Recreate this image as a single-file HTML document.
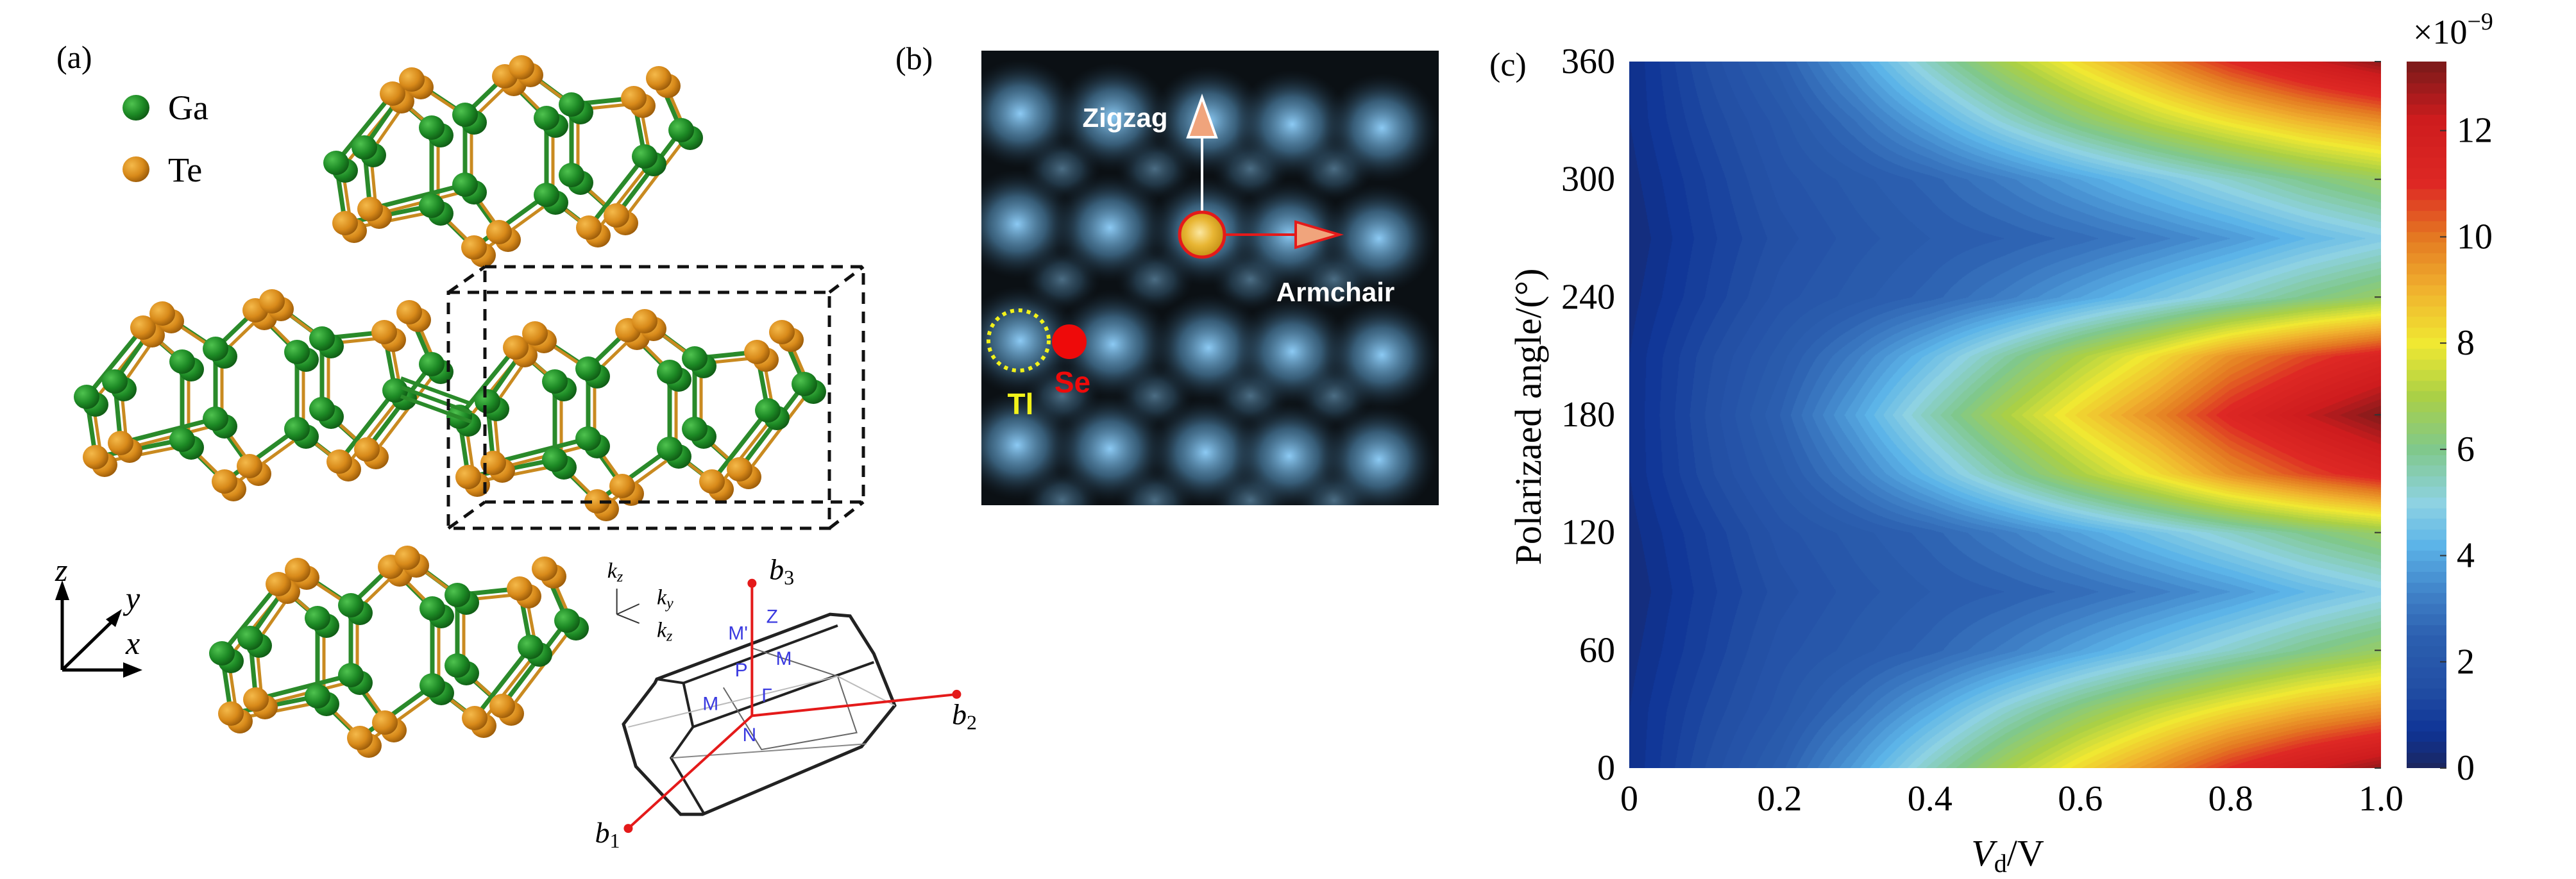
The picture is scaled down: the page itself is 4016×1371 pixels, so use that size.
<!DOCTYPE html>
<html><head><meta charset="utf-8">
<style>
html,body{margin:0;padding:0;background:#fff;}
#root{position:relative;width:4016px;height:1371px;overflow:hidden;background:#fff;font-family:"Liberation Serif",serif;}
svg{position:absolute;left:0;top:0;}
</style></head>
<body>
<div id="root">
<svg id="svg" width="4016" height="1371" viewBox="0 0 4016 1371">
<defs>
<radialGradient id="gGa" cx="35%" cy="35%" r="70%"><stop offset="0" stop-color="#4fc24f"/><stop offset="0.6" stop-color="#1d8a25"/><stop offset="1" stop-color="#0f5a14"/></radialGradient>
<radialGradient id="gTe" cx="35%" cy="35%" r="70%"><stop offset="0" stop-color="#f4b94a"/><stop offset="0.6" stop-color="#d88a1a"/><stop offset="1" stop-color="#9a5a08"/></radialGradient>
<radialGradient id="gBlob" cx="50%" cy="50%" r="50%"><stop offset="0" stop-color="#8ccaf4" stop-opacity="1"/><stop offset="0.5" stop-color="#4f86ad" stop-opacity="0.65"/><stop offset="1" stop-color="#1a2a38" stop-opacity="0"/></radialGradient>
<radialGradient id="gGold" cx="45%" cy="45%" r="60%"><stop offset="0" stop-color="#fbe7a0"/><stop offset="0.5" stop-color="#e8b634"/><stop offset="1" stop-color="#c08a10"/></radialGradient>
<clipPath id="clipB"><rect x="1530" y="79" width="713" height="709"/></clipPath>
</defs>
<g id="panelA"></g>
<g id="panelB"></g>
<g id="panelC"></g>
</svg>
<canvas id="heat" width="1172" height="1102" style="position:absolute;left:2540px;top:96px;"></canvas>
<canvas id="cbar" width="62" height="1102" style="position:absolute;left:3752px;top:96px;"></canvas>
<svg width="4016" height="1371" style="position:absolute;left:0;top:0;pointer-events:none" id="overlay"></svg>
</div>
<script>
// ===== chart data (panel c) =====
const vValues = [0, 0.1, 0.2, 0.3, 0.4, 0.5, 0.6, 0.7, 0.8, 0.9, 1.0];
const angleValues = [0, 30, 60, 90, 120, 150, 180, 210, 240, 270, 300, 330, 360];
const photocurrent = [
  [0.5,1.5,2.4,3.8,5.4,6.9,8.3,9.6,11.0,12.1,13.0],
  [0.5,1.3,2.0,2.9,4.0,5.2,6.3,7.3,8.2,9.0,9.6],
  [0.4,1.1,1.8,2.2,2.6,3.2,3.9,4.6,5.3,6.0,6.6],
  [0.3,1.0,1.6,2.0,2.3,2.5,2.8,3.2,3.7,4.3,4.8],
  [0.4,1.1,1.8,2.2,2.6,3.2,3.9,4.6,5.3,6.0,6.6],
  [0.5,1.4,2.2,3.2,4.4,5.7,7.0,8.2,9.6,10.6,11.4],
  [0.5,1.5,2.5,3.9,5.5,7.0,8.4,9.7,11.2,12.3,13.2],
  [0.5,1.4,2.2,3.2,4.4,5.7,7.0,8.2,9.6,10.6,11.4],
  [0.4,1.1,1.8,2.2,2.6,3.2,3.9,4.6,5.3,6.0,6.6],
  [0.3,1.0,1.6,2.0,2.3,2.5,2.8,3.2,3.7,4.3,4.8],
  [0.4,1.1,1.8,2.2,2.6,3.2,3.9,4.6,5.3,6.0,6.6],
  [0.5,1.3,2.0,2.9,4.0,5.2,6.3,7.3,8.2,9.0,9.6],
  [0.5,1.5,2.4,3.8,5.4,6.9,8.3,9.6,11.0,12.1,13.0]
];
const xTicks = [0, 0.2, 0.4, 0.6, 0.8, 1.0];
const xTickLabels = ["0","0.2","0.4","0.6","0.8","1.0"];
const yTicks = [0, 60, 120, 180, 240, 300, 360];
const cbTicks = [0, 2, 4, 6, 8, 10, 12];
const cbMax = 13.3;

const NS = "http://www.w3.org/2000/svg";
function el(parent, tag, attrs, text){
  const e = document.createElementNS(NS, tag);
  for (const k in attrs) e.setAttribute(k, attrs[k]);
  if (text !== undefined) e.textContent = text;
  parent.appendChild(e);
  return e;
}

const cmapStops = [
 [0,[27,38,96]],[0.7,[14,52,150]],[1.5,[34,78,164]],[2.5,[44,96,176]],[3.3,[64,130,200]],[4.2,[92,180,232]],
 [5,[142,210,226]],[6,[128,200,140]],[7,[170,208,70]],[8,[240,232,50]],[9,[240,178,46]],[10,[228,120,34]],
 [11,[222,40,36]],[12.2,[206,28,30]],[13.3,[120,26,26]]];
function cmap(v){
  if (v<=cmapStops[0][0]) return cmapStops[0][1];
  for (let i=1;i<cmapStops.length;i++){
    if (v<=cmapStops[i][0]){
      const a=cmapStops[i-1], b=cmapStops[i], t=(v-a[0])/(b[0]-a[0]);
      return [a[1][0]+(b[1][0]-a[1][0])*t, a[1][1]+(b[1][1]-a[1][1])*t, a[1][2]+(b[1][2]-a[1][2])*t];
    }
  }
  return cmapStops[cmapStops.length-1][1];
}

const PX0=2540, PX1=3712, PY0=96, PY1=1198;
function xScale(v){ return PX0 + (v - vValues[0])/(vValues[vValues.length-1]-vValues[0])*(PX1-PX0); }
function yScale(a){ return PY1 - (a - angleValues[0])/(angleValues[angleValues.length-1]-angleValues[0])*(PY1-PY0); }
const CB0=96, CB1=1198;
function cbScale(v){ return CB1 - v/cbMax*(CB1-CB0); }

function sampleField(v, a){
  let i=0; while(i<vValues.length-2 && v>vValues[i+1]) i++;
  let j=0; while(j<angleValues.length-2 && a>angleValues[j+1]) j++;
  const tx=(v-vValues[i])/(vValues[i+1]-vValues[i]);
  const ty=(a-angleValues[j])/(angleValues[j+1]-angleValues[j]);
  const s=(p,q)=>p*(1-tx)+q*tx;
  const r0=s(photocurrent[j][i],photocurrent[j][i+1]);
  const r1=s(photocurrent[j+1][i],photocurrent[j+1][i+1]);
  return r0*(1-ty)+r1*ty;
}
(function drawHeat(){
  const c=document.getElementById('heat'), ctx=c.getContext('2d');
  const W=c.width,H=c.height, img=ctx.createImageData(W,H);
  const vMin=vValues[0], vMax=vValues[vValues.length-1];
  const aMin=angleValues[0], aMax=angleValues[angleValues.length-1];
  for(let y=0;y<H;y++){
    const a = aMin + (PY1-(PY0+y))/(PY1-PY0)*(aMax-aMin);
    for(let x=0;x<W;x++){
      const v = vMin + (x)/(PX1-PX0)*(vMax-vMin);
      let val = sampleField(v,a);
      val = Math.round(val*5)/5;
      const col=cmap(val), k=(y*W+x)*4;
      img.data[k]=col[0];img.data[k+1]=col[1];img.data[k+2]=col[2];img.data[k+3]=255;
    }
  }
  ctx.putImageData(img,0,0);
  const cb=document.getElementById('cbar'), cx=cb.getContext('2d');
  for(let y=0;y<cb.height;y++){
    const v=(CB1-(CB0+y))/(CB1-CB0)*cbMax;
    const col=cmap(Math.round(v*5)/5);
    cx.fillStyle='rgb('+col.map(Math.round).join(',')+')';
    cx.fillRect(0,y,cb.width,1);
  }
})();

const ov=document.getElementById('overlay');
el(ov,'text',{x:2322,y:118,'font-size':52,'font-family':'Liberation Serif, serif',},'(c)');
yTicks.forEach(t=>{
  const y=yScale(t);
  const tl=el(ov,'text',{x:2518,y:y+18,'font-size':56,'text-anchor':'end','font-family':'Liberation Serif, serif'},String(t));
  
  
  const tm=el(ov,'line',{x1:PX1-10,y1:y,x2:PX1,y2:y,stroke:'#333','stroke-width':2});
  
  
});
xTicks.forEach((t,i)=>{
  const x=xScale(t);
  const tl=el(ov,'text',{x:x,y:1264,'font-size':56,'text-anchor':'middle','font-family':'Liberation Serif, serif'},xTickLabels[i]);
  
  
});
el(ov,'text',{x:0,y:0,'font-size':58,'text-anchor':'middle','font-family':'Liberation Serif, serif',transform:'translate(2402,650) rotate(-90)',},'Polarizaed angle/(°)');
const xt=el(ov,'text',{x:3130,y:1350,'font-size':58,'text-anchor':'middle','font-family':'Liberation Serif, serif',});
el(xt,'tspan',{'font-style':'italic'},'V');
el(xt,'tspan',{'font-size':40,dy:10},'d');
el(xt,'tspan',{dy:-10},'/V');
cbTicks.forEach(t=>{
  const y=cbScale(t);
  const tl=el(ov,'text',{x:3830,y:y+18,'font-size':56,'font-family':'Liberation Serif, serif'},String(t));
  
  
  const tm=el(ov,'line',{x1:3804,y1:y,x2:3814,y2:y,stroke:'#333','stroke-width':2});
  
  
});
const ex=el(ov,'text',{x:3762,y:68,'font-size':54,'font-family':'Liberation Serif, serif',},'×10');
el(ex,'tspan',{'font-size':38,dy:-22},'−9');

// ===== panel a =====
const gA=document.getElementById('panelA');
el(gA,'text',{x:88,y:106,'font-size':50,},'(a)');
el(gA,'ellipse',{cx:212,cy:168,rx:21,ry:20,fill:'url(#gGa)',});
el(gA,'text',{x:262,y:186,'font-size':54,},'Ga');
el(gA,'ellipse',{cx:212,cy:264,rx:21,ry:20,fill:'url(#gTe)',});
el(gA,'text',{x:262,y:283,'font-size':54,},'Te');

const teT=[[612,146],[642,124],[787,119],[813,105],[988,153],[1027,122],[538,348],[577,326],[739,386],[778,362],[918,355],[961,336]];
const gaT=[[524,254],[568,230],[673,199],[725,179],[852,184],[891,163],[673,321],[725,288],[852,304],[891,273],[1005,244],[1062,203]];
const bondsT=[[gaT[2],gaT[6]],[gaT[3],gaT[7]],[gaT[4],gaT[8]],[gaT[5],gaT[9]],[teT[0],gaT[0]],[teT[1],gaT[1]],[teT[0],gaT[2]],[teT[1],gaT[3]],[teT[2],gaT[3]],[teT[2],gaT[4]],[teT[3],gaT[5]],[teT[4],gaT[5]],[teT[4],gaT[10]],[teT[5],gaT[11]],[gaT[0],teT[6]],[gaT[1],teT[7]],[teT[6],gaT[6]],[teT[7],gaT[7]],[gaT[6],teT[8]],[gaT[7],teT[9]],[teT[8],gaT[8]],[gaT[8],teT[10]],[gaT[9],teT[11]],[teT[10],gaT[10]],[teT[11],gaT[11]]];
function molecule(dx,dy,name){
  const g=el(gA,'g',{transform:`translate(${dx},${dy})`});
  
  
  bondsT.forEach(b=>{
    el(g,'line',{x1:b[0][0],y1:b[0][1],x2:b[1][0],y2:b[1][1],stroke:'#2a8a2a','stroke-width':7});
    el(g,'line',{x1:b[0][0]+10,y1:b[0][1]+8,x2:b[1][0]+10,y2:b[1][1]+8,stroke:'#c98a20','stroke-width':5});
  });
  teT.forEach(p=>{ el(g,'ellipse',{cx:p[0]+14,cy:p[1]+12,rx:20,ry:19,fill:'url(#gTe)'}); el(g,'ellipse',{cx:p[0],cy:p[1],rx:20,ry:19,fill:'url(#gTe)'}); });
  gaT.forEach(p=>{ el(g,'ellipse',{cx:p[0]+14,cy:p[1]+12,rx:20,ry:19,fill:'url(#gGa)'}); el(g,'ellipse',{cx:p[0],cy:p[1],rx:20,ry:19,fill:'url(#gGa)'}); });
}
molecule(0,0,'molecule-top');
molecule(-389,365,'molecule-middle-left');
molecule(192,396,'molecule-middle-right');
molecule(-178,765,'molecule-bottom');
[0,14,28].forEach(o=>el(gA,'line',{x1:625,y1:590+o,x2:735,y2:630+o,stroke:'#2a8a2a','stroke-width':6}));
const dash={fill:'none',stroke:'#111','stroke-width':5,'stroke-dasharray':'18 12'};
const uc=el(gA,'g',{});
el(uc,'rect',Object.assign({x:699,y:456,width:594,height:368},dash));
el(uc,'rect',Object.assign({x:756,y:416,width:590,height:367},dash));
[[699,456,756,416],[1293,456,1346,416],[699,824,756,783],[1293,824,1346,783]].forEach(l=>el(uc,'line',Object.assign({x1:l[0],y1:l[1],x2:l[2],y2:l[3]},dash)));
const ax=el(gA,'g',{stroke:'#000','stroke-width':5,fill:'#000'});
el(ax,'line',{x1:97,y1:1045,x2:97,y2:930});
el(ax,'polygon',{points:'86,936 97,905 108,936',stroke:'none'});
el(ax,'line',{x1:97,y1:1045,x2:200,y2:1045});
el(ax,'polygon',{points:'192,1033 222,1045 192,1057',stroke:'none'});
el(ax,'line',{x1:97,y1:1045,x2:176,y2:968});
el(ax,'polygon',{points:'165,966 190,950 180,978',stroke:'none'});
el(gA,'text',{x:86,y:906,'font-size':50,'font-style':'italic',},'z');
el(gA,'text',{x:196,y:950,'font-size':50,'font-style':'italic',},'y');
el(gA,'text',{x:196,y:1020,'font-size':50,'font-style':'italic',},'x');

function Z(x,y){ return [x*1.484, y*0.879]; }
function pts(arr){ return arr.map(p=>Z(p[0],p[1]).join(',')).join(' '); }
const bz=el(gA,'g',{});
el(bz,'polygon',{points:pts([[690,1205],[872,1090],[893,1093],[918,1160],[940,1252],[905,1325],[738,1445],[715,1445],[668,1360],[655,1285],[688,1212]]),fill:'none',stroke:'#222','stroke-width':5});
el(bz,'polyline',{points:pts([[690,1205],[718,1212],[880,1110]]),fill:'none',stroke:'#222','stroke-width':4});
el(bz,'polyline',{points:pts([[718,1212],[728,1290],[705,1345],[740,1445]]),fill:'none',stroke:'#222','stroke-width':4});
el(bz,'polyline',{points:pts([[728,1290],[918,1175]]),fill:'none',stroke:'#222','stroke-width':4});
el(bz,'polyline',{points:pts([[705,1345],[910,1320]]),fill:'none',stroke:'#888','stroke-width':2});
el(bz,'polyline',{points:pts([[760,1220],[800,1330],[900,1300],[880,1200],[790,1150]]),fill:'none',stroke:'#666','stroke-width':2});
el(bz,'polyline',{points:pts([[660,1290],[880,1200],[940,1252]]),fill:'none',stroke:'#bbb','stroke-width':2});
const ra=el(gA,'g',{stroke:'#e41a1a','stroke-width':4,fill:'#e41a1a'});
let g0=Z(790,1270);
[[790,1035],[1005,1232],[660,1470]].forEach(p=>{ const q=Z(p[0],p[1]); el(ra,'line',{x1:g0[0],y1:g0[1],x2:q[0],y2:q[1]}); el(ra,'circle',{cx:q[0],cy:q[1],r:7,stroke:'none'}); });
[['b','3',808,1028],['b','2',1000,1285],['b','1',625,1495]].forEach(l=>{ const q=Z(l[2],l[3]); const t=el(gA,'text',{x:q[0],y:q[1],'font-size':46,'font-style':'italic'});   t.textContent=l[0]; el(t,'tspan',{'font-size':32,dy:8,'font-style':'normal'},l[1]); });
[['Z',805,1105],["M'",765,1135],['M',815,1180],['P',772,1200],['M',738,1260],['Γ',800,1245],['N',780,1315]].forEach(l=>{ const q=Z(l[1],l[2]); const t=el(gA,'text',{x:q[0],y:q[1],'font-size':30,fill:'#3a3ae0','font-family':'Liberation Sans, sans-serif'},l[0]);   });
const kz=el(gA,'g',{stroke:'#333','stroke-width':2});
let k0=Z(648,1090);
el(kz,'line',{x1:k0[0],y1:k0[1],x2:k0[0],y2:k0[1]-40});
el(kz,'line',{x1:k0[0],y1:k0[1],x2:k0[0]+35,y2:k0[1]-16});
el(kz,'line',{x1:k0[0],y1:k0[1],x2:k0[0]+35,y2:k0[1]+14});
[['k','z',638,1025],['k','y',690,1072],['k','z',690,1130]].forEach(l=>{ const q=Z(l[2],l[3]); const t=el(gA,'text',{x:q[0],y:q[1],'font-size':34,'font-style':'italic'});   t.textContent=l[0]; el(t,'tspan',{'font-size':24,dy:6},l[1]); });

// ===== panel b =====
const gB=document.getElementById('panelB');
el(gB,'text',{x:1396,y:108,'font-size':50,},'(b)');
el(gB,'rect',{x:1530,y:79,width:713,height:709,fill:'#0b1014',});
const bl=el(gB,'g',{'clip-path':'url(#clipB)'});
const blobRows=[230,600,990,1340];
const blobCols=[120,430,750,1030,1330];
blobRows.forEach((r,ri)=>blobCols.forEach((c,ci)=>{
  if(ci==4) return;
  const x=1530+(c+150)/2.146, y=70+(r+185)/2.146;
  el(bl,'ellipse',{cx:x,cy:y,rx:60,ry:50,fill:'url(#gBlob)',opacity:0.5});
}));
blobRows.forEach((r,ri)=>blobCols.forEach((c,ci)=>{
  const x=1530+(c+(ri%2?0:10))/2.146, y=70+(r+ci*12)/2.146;
  el(bl,'ellipse',{cx:x,cy:y,rx:90,ry:85,fill:'url(#gBlob)'});
}));
el(gB,'line',{x1:1874,y1:366,x2:1874,y2:215,stroke:'#fff','stroke-width':4});
el(gB,'polygon',{points:'1874,152 1852,214 1896,214',fill:'#f0a47c',stroke:'#fff','stroke-width':4,});
el(gB,'line',{x1:1874,y1:366,x2:2020,y2:366,stroke:'#e41a1a','stroke-width':4});
el(gB,'polygon',{points:'2088,366 2020,346 2020,386',fill:'#f0a47c',stroke:'#e41a1a','stroke-width':4,});
el(gB,'circle',{cx:1874,cy:366,r:35,fill:'url(#gGold)',stroke:'#e41a1a','stroke-width':5,});
el(gB,'text',{x:1754,y:198,'font-size':42,'font-weight':'bold',fill:'#fff','text-anchor':'middle','font-family':'Liberation Sans, sans-serif',},'Zigzag');
el(gB,'text',{x:2082,y:470,'font-size':42,'font-weight':'bold',fill:'#fff','text-anchor':'middle','font-family':'Liberation Sans, sans-serif',},'Armchair');
el(gB,'circle',{cx:1588,cy:531,r:47,fill:'none',stroke:'#f2f21a','stroke-width':6,'stroke-dasharray':'6 7',});
el(gB,'circle',{cx:1667,cy:533,r:27,fill:'#ee0a0a',});
el(gB,'text',{x:1672,y:612,'font-size':46,'font-weight':'bold',fill:'#ee0a0a','text-anchor':'middle','font-family':'Liberation Sans, sans-serif',},'Se');
el(gB,'text',{x:1591,y:646,'font-size':46,'font-weight':'bold',fill:'#f2f21a','text-anchor':'middle','font-family':'Liberation Sans, sans-serif',},'Tl');
</script>
</body></html>
